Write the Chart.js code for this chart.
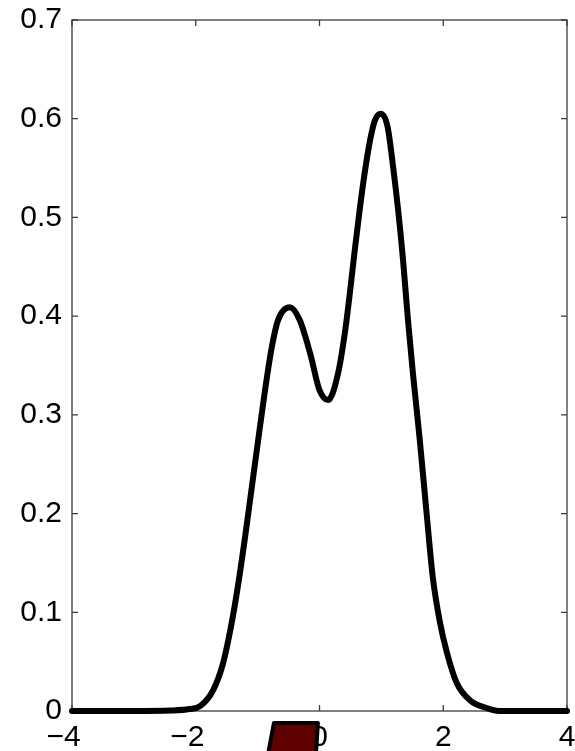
<!DOCTYPE html>
<html>
<head>
<meta charset="utf-8">
<script src="https://cdn.jsdelivr.net/npm/chart.js@4/dist/chart.umd.min.js"></script>
<style>
  html, body { margin: 0; padding: 0; background: #fff; }
  canvas { display: block; }
</style>
</head>
<body>
<canvas id="densityChart" width="575" height="751"></canvas>
<script>
// x positions and density values
const xValues = [-4, -3, -2.4, -2.1, -1.93, -1.72, -1.56, -1.42, -1.31, -1.21, -1.10, -0.99, -0.88, -0.77,
    -0.67, -0.48, -0.32, -0.15, 0.0, 0.14, 0.30, 0.41, 0.49, 0.57, 0.65, 0.73, 0.82, 0.90, 0.99, 1.10,
    1.19, 1.27, 1.35, 1.43, 1.51, 1.62, 1.73, 1.83, 1.94, 2.06, 2.22, 2.43, 2.70, 2.9, 3.5, 4];
const densityValues = [0, 0, 0.0005, 0.002, 0.005, 0.021, 0.048, 0.089, 0.130, 0.173, 0.224, 0.275, 0.325, 0.369,
    0.396, 0.409, 0.396, 0.362, 0.325, 0.315, 0.342, 0.383, 0.423, 0.467, 0.508, 0.545, 0.579, 0.599, 0.605, 0.592,
    0.551, 0.508, 0.457, 0.396, 0.342, 0.275, 0.201, 0.136, 0.092, 0.059, 0.028, 0.011, 0.003, 0, 0, 0];

// tick values
const xTicks = [-4, -2, 0, 2, 4];
const yTicks = [0, 0.1, 0.2, 0.3, 0.4, 0.5, 0.6, 0.7];

// the dark red patch under the axis (data units)
const patchX = [-0.737, -0.026, -0.058, -0.834];
const patchY = [-0.0122, -0.0122, -0.0446, -0.0446];

const font = { family: 'Liberation Sans, Arial, Helvetica, sans-serif', size: 30 };

// frame with inward ticks, like the matlab box
const framePlugin = {
    id: 'frame',
    beforeDatasetsDraw(chart) {
        const { ctx, chartArea: a, scales } = chart;
        const len = 6;
        ctx.save();
        ctx.strokeStyle = '#3c3c3c';
        ctx.lineWidth = 1.3;
        ctx.strokeRect(a.left, a.top, a.right - a.left, a.bottom - a.top);
        ctx.beginPath();
        xTicks.forEach(v => {
            const px = scales.x.getPixelForValue(v);
            ctx.moveTo(px, a.bottom); ctx.lineTo(px, a.bottom - len);
            ctx.moveTo(px, a.top); ctx.lineTo(px, a.top + len);
        });
        yTicks.forEach(v => {
            const py = scales.y.getPixelForValue(v);
            ctx.moveTo(a.left, py); ctx.lineTo(a.left + len, py);
            ctx.moveTo(a.right, py); ctx.lineTo(a.right - len, py);
        });
        ctx.stroke();
        ctx.restore();
    },
    afterDraw(chart) {
        const { ctx, scales } = chart;
        ctx.save();
        ctx.beginPath();
        patchX.forEach((v, i) => {
            const px = scales.x.getPixelForValue(v);
            const py = scales.y.getPixelForValue(patchY[i]);
            if (i === 0) ctx.moveTo(px, py); else ctx.lineTo(px, py);
        });
        ctx.closePath();
        ctx.fillStyle = '#5e0000';
        ctx.fill();
        ctx.lineWidth = 4;
        ctx.lineJoin = 'round';
        ctx.strokeStyle = '#000';
        ctx.stroke();
        ctx.restore();
    }
};

const ctx = document.getElementById('densityChart').getContext('2d');
const chart = new Chart(ctx, {
    type: 'line',
    data: {
        datasets: [{
            data: xValues.map((x, i) => ({ x: x, y: densityValues[i] })),
            borderColor: '#000',
            borderWidth: 6,
            borderCapStyle: 'round',
            borderJoinStyle: 'round',
            cubicInterpolationMode: 'monotone',
            pointRadius: 0,
            fill: false,
            clip: false
        }]
    },
    options: {
        responsive: false,
        animation: false,
        devicePixelRatio: 1,
        layout: { padding: { top: 20, right: 8, left: 0, bottom: 0 } },
        plugins: { legend: { display: false }, tooltip: { enabled: false } },
        scales: {
            x: {
                type: 'linear',
                min: -4, max: 4,
                afterBuildTicks: s => { s.ticks = xTicks.map(v => ({ value: v })); },
                afterFit: s => { s.height = 40; s.paddingLeft = 0; s.paddingRight = 0; },
                grid: { display: false, drawTicks: false },
                border: { display: false },
                ticks: {
                    color: '#000', font: font, padding: 9, maxRotation: 0,
                    callback: v => v < 0 ? '\u2212' + Math.abs(v) + '  ' : String(v)
                }
            },
            y: {
                min: 0, max: 0.7,
                afterBuildTicks: s => { s.ticks = yTicks.map(v => ({ value: v })); },
                afterFit: s => { s.width = 72; s.paddingTop = 0; s.paddingBottom = 0; },
                grid: { display: false, drawTicks: false },
                border: { display: false },
                ticks: {
                    color: '#000', font: font, padding: 10,
                    callback: v => String(Math.round(v * 10) / 10)
                }
            }
        }
    },
    plugins: [framePlugin]
});
</script>
</body>
</html>
